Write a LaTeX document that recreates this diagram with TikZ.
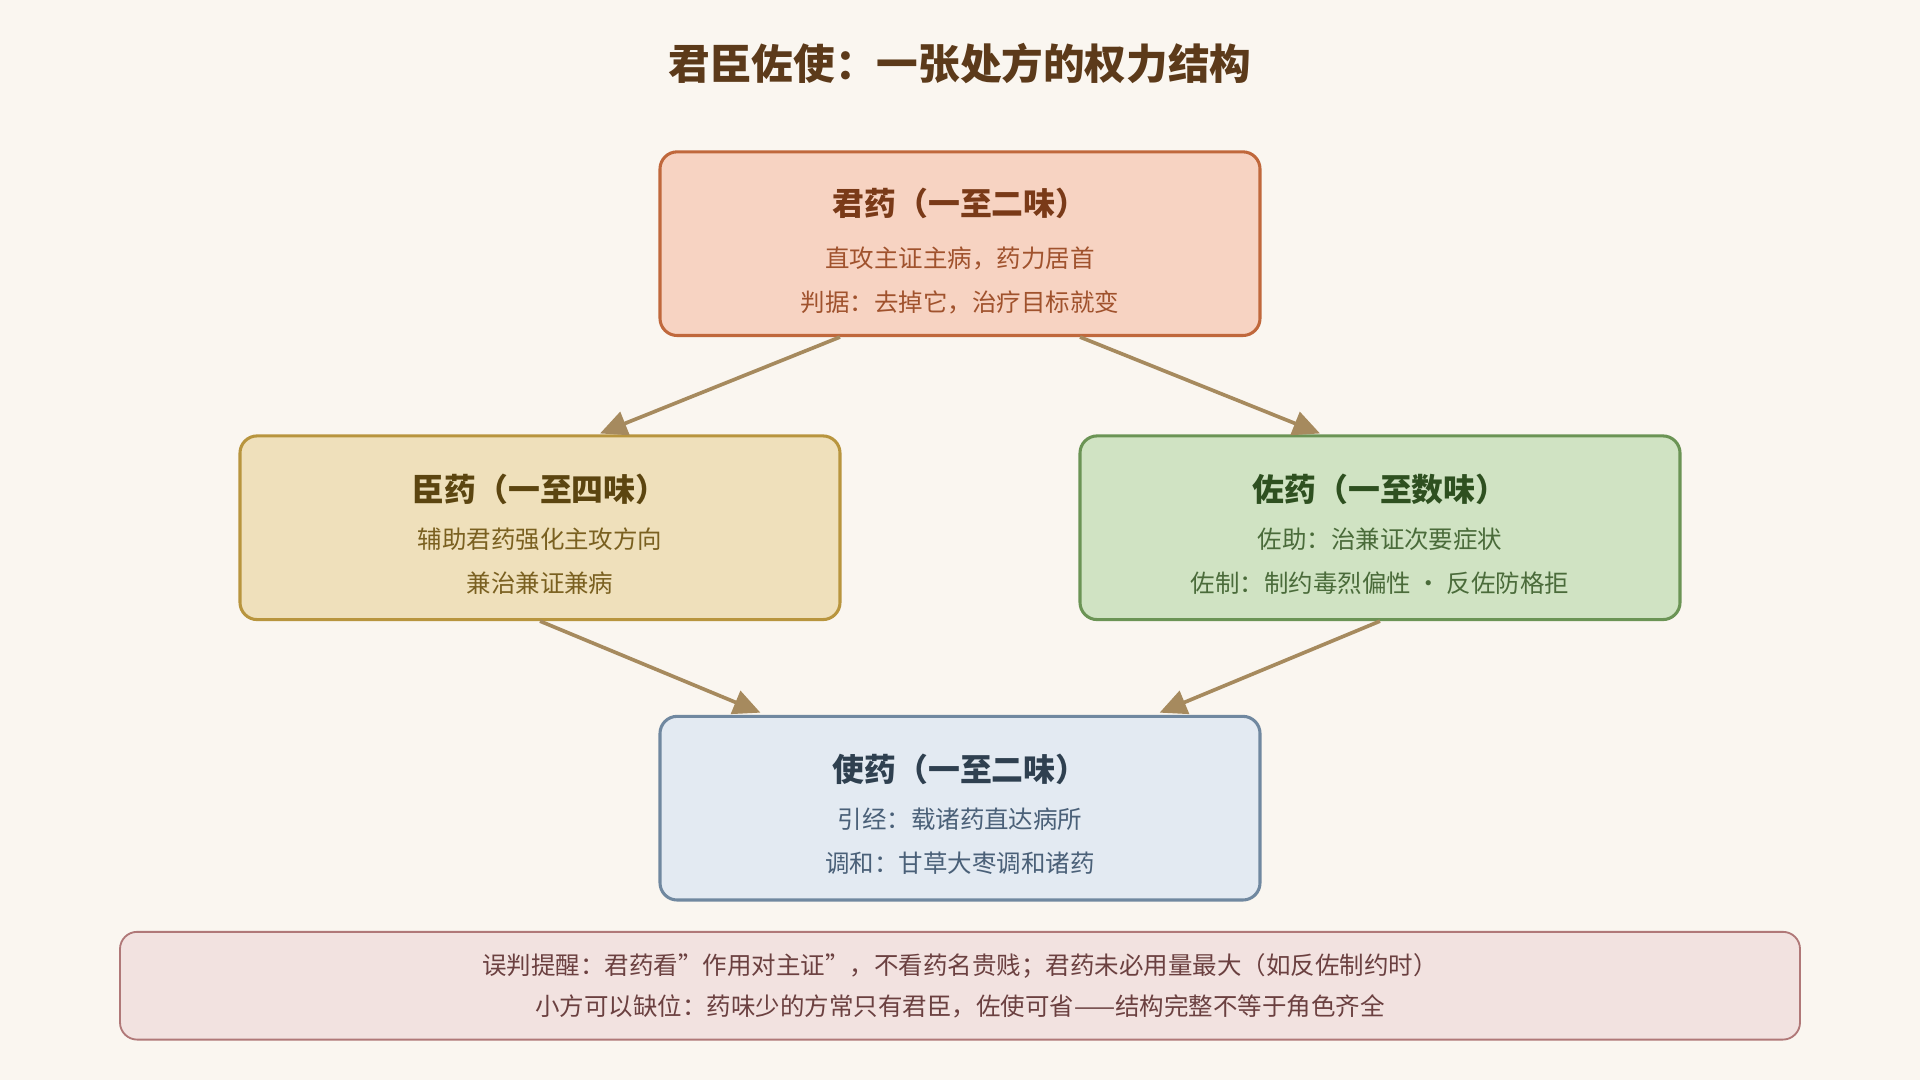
\documentclass[tikz,border=0pt]{standalone}
\usepackage{fontspec}
\setmainfont{Noto Sans CJK SC}
\usetikzlibrary{arrows.meta}
\definecolor{bg}{HTML}{FAF6F0}
\definecolor{arr}{HTML}{A68A5E}
\begin{document}
\begin{tikzpicture}[x=1pt,y=-1pt,
  box/.style={draw,line width=2.5pt,rounded corners=14pt,minimum width=490pt,minimum height=150pt},
  ttl/.style={font=\fontsize{26}{30}\selectfont\bfseries},
  ln/.style={font=\fontsize{20}{24}\selectfont},
  con/.style={arr,line width=3pt,-{Triangle[length=22pt,width=20pt]}}]
\fill[bg] (0,0) rectangle (1568,882);
\node[font=\fontsize{34}{40}\selectfont\bfseries,text=black!40!brown!80!black,color={rgb,255:red,92;green,58;blue,26}] (title) at (784,52) {君臣佐使：一张处方的权力结构};
% boxes
\node[box,fill={rgb,255:red,247;green,211;blue,194},draw={rgb,255:red,192;green,104;blue,60}] (jun) at (784,199) {};
\node[box,fill={rgb,255:red,239;green,224;blue,187},draw={rgb,255:red,184;green,149;blue,62}] (chen) at (441,431) {};
\node[box,fill={rgb,255:red,208;green,227;blue,195},draw={rgb,255:red,107;green,148;blue,85}] (zuo) at (1127,431) {};
\node[box,fill={rgb,255:red,227;green,234;blue,242},draw={rgb,255:red,112;green,136;blue,160}] (shi) at (784,660) {};
\node[draw={rgb,255:red,176;green,120;blue,120},fill={rgb,255:red,242;green,226;blue,224},line width=1.5pt,rounded corners=14pt,minimum width=1372pt,minimum height=88pt] (note) at (784,805) {};
% texts
\node[ttl,text={rgb,255:red,122;green,58;blue,24}] (jt) at (784,166) {君药（一至二味）};
\node[ln,text={rgb,255:red,160;green,82;blue,45}] (j1) at (784,211) {直攻主证主病，药力居首};
\node[ln,text={rgb,255:red,160;green,82;blue,45}] (j2) at (784,247) {判据：去掉它，治疗目标就变};
\node[ttl,text={rgb,255:red,92;green,69;blue,16}] (ct) at (441,400) {臣药（一至四味）};
\node[ln,text={rgb,255:red,122;green,96;blue,32}] (c1) at (441,440) {辅助君药强化主攻方向};
\node[ln,text={rgb,255:red,122;green,96;blue,32}] (c2) at (441,476) {兼治兼证兼病};
\node[ttl,text={rgb,255:red,46;green,80;blue,32}] (zt) at (1127,400) {佐药（一至数味）};
\node[ln,text={rgb,255:red,74;green,107;blue,58}] (z1) at (1127,440) {佐助：治兼证次要症状};
\node[ln,text={rgb,255:red,74;green,107;blue,58}] (z2) at (1127,476) {佐制：制约毒烈偏性 · 反佐防格拒};
\node[ttl,text={rgb,255:red,47;green,64;blue,80}] (st) at (784,628) {使药（一至二味）};
\node[ln,text={rgb,255:red,74;green,96;blue,120}] (s1) at (784,669) {引经：载诸药直达病所};
\node[ln,text={rgb,255:red,74;green,96;blue,120}] (s2) at (784,705) {调和：甘草大枣调和诸药};
\node[ln,text={rgb,255:red,107;green,64;blue,64}] (n1) at (784,789) {误判提醒：君药看"作用对主证"，不看药名贵贱；君药未必用量最大（如反佐制约时）};
\node[ln,text={rgb,255:red,107;green,64;blue,64}] (n2) at (784,822) {小方可以缺位：药味少的方常只有君臣，佐使可省——结构完整不等于角色齐全};
% connectors
\coordinate (a1) at (490,354); \coordinate (a2) at (1078,354);
\coordinate (a3) at (621,582); \coordinate (a4) at (947,582);
\draw[con] ([xshift=-98pt]jun.south) -- (a1);
\draw[con] ([xshift=98pt]jun.south) -- (a2);
\draw[con] (chen.south) -- (a3);
\draw[con] (zuo.south) -- (a4);
\end{tikzpicture}
\end{document}
